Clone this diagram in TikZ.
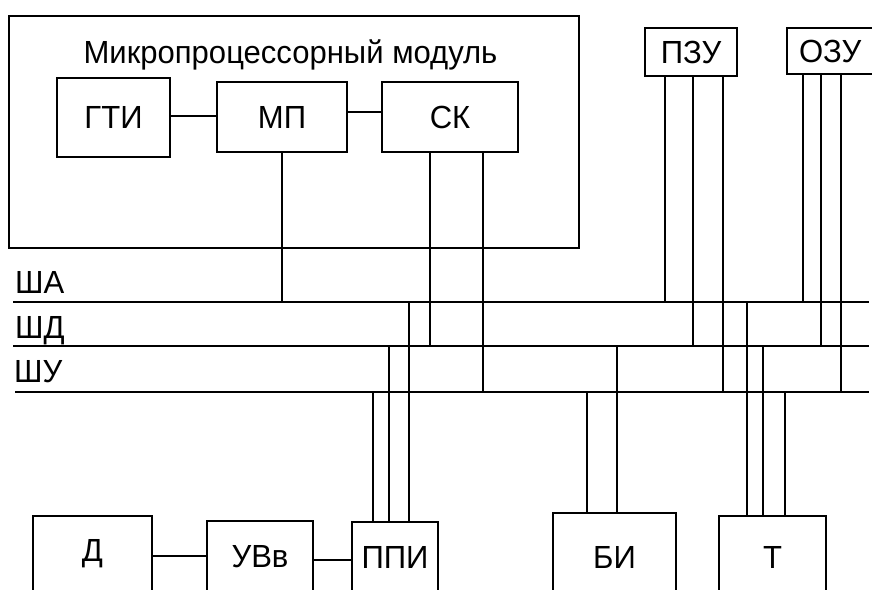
\documentclass[tikz,border=0pt]{standalone}
\usepackage{fontspec}
\setmainfont{Liberation Sans}[FakeStretch=0.97]
\usetikzlibrary{calc}
\tikzset{
  blk/.style={draw, line width=1.3pt, inner sep=0pt, rectangle, font=\fontsize{32}{38}\selectfont},
  wire/.style={line width=1.1pt},
  bus/.style={line width=1.8pt},
  lbl/.style={inner sep=0pt, font=\fontsize{32}{38}\selectfont}
}
\begin{document}
\begin{tikzpicture}[x=1pt,y=-1pt]
\useasboundingbox (0,0) rectangle (872,589);
\clip (0,0) rectangle (872,589);
% module
\node[blk, minimum width=570, minimum height=232] (module) at (294,132) {};
\node[lbl, anchor=base] (title) at (290.5,63) {Микропроцессорный модуль};
\node[blk, minimum width=113, minimum height=79] (gti) at (113.5,117.5) {ГТИ};
\node[blk, minimum width=130, minimum height=70] (mp) at (282,117) {МП};
\node[blk, minimum width=136, minimum height=70] (ck) at (450,117) {СК};
% memory
\node[blk, minimum width=92, minimum height=48] (pzu) at (691,52) {ПЗУ};
\node[blk, minimum width=93, minimum height=46, text width=93, align=left] (ozu) at (833.5,51) {\hspace*{12pt}ОЗУ};
% bottom
\node[blk, minimum width=119, minimum height=76] (d) at (92.5,554) {Д};
\node[blk, minimum width=106, minimum height=72] (uvv) at (260,557) {УВв};
\node[blk, minimum width=86, minimum height=70] (ppi) at (395,557) {ППИ};
\node[blk, minimum width=123, minimum height=88] (bi) at (614.5,557) {БИ};
\node[blk, minimum width=107, minimum height=82] (t) at (772.5,557) {Т};
% buses
\coordinate (A0) at (13,302); \coordinate (A1) at (869,302);
\coordinate (D0) at (13,346); \coordinate (D1) at (869,346);
\coordinate (U0) at (15,392); \coordinate (U1) at (869,392);
\draw[bus] (A0) -- (A1);
\draw[bus] (D0) -- (D1);
\draw[bus] (U0) -- (U1);
\node[lbl, anchor=base west] (la) at (15,293) {ША};
\node[lbl, anchor=base west] (ld) at (15,338) {ШД};
\node[lbl, anchor=base west] (lu) at (14,382) {ШУ};
% horizontal links
\draw[wire] (gti.east |- 0,116) -- (mp.west |- 0,116);
\draw[wire] (mp.east |- 0,112) -- (ck.west |- 0,112);
\draw[wire] (d.east |- 0,556) -- (uvv.west |- 0,556);
\draw[wire] (uvv.east |- 0,560) -- (ppi.west |- 0,560);
% taps on buses
\coordinate (mpA) at (282,302);
\coordinate (ck1D) at (430,346);
\coordinate (ck2U) at (483,392);
\coordinate (pz1A) at (665,302);
\coordinate (pz2D) at (693,346);
\coordinate (pz3U) at (723,392);
\coordinate (oz1A) at (803,302);
\coordinate (oz2D) at (821,346);
\coordinate (oz3U) at (841,392);
\coordinate (pp1U) at (373,392);
\coordinate (pp2D) at (389,346);
\coordinate (pp3A) at (409,302);
\coordinate (bi1U) at (587,392);
\coordinate (bi2D) at (617,346);
\coordinate (t1A) at (747,302);
\coordinate (t2D) at (763,346);
\coordinate (t3U) at (785,392);
% vertical links
\draw[wire] (mpA |- mp.south) -- (mpA);
\draw[wire] (ck1D |- ck.south) -- (ck1D);
\draw[wire] (ck2U |- ck.south) -- (ck2U);
\draw[wire] (pz1A |- pzu.south) -- (pz1A);
\draw[wire] (pz2D |- pzu.south) -- (pz2D);
\draw[wire] (pz3U |- pzu.south) -- (pz3U);
\draw[wire] (oz1A |- ozu.south) -- (oz1A);
\draw[wire] (oz2D |- ozu.south) -- (oz2D);
\draw[wire] (oz3U |- ozu.south) -- (oz3U);
\draw[wire] (pp1U) -- (pp1U |- ppi.north);
\draw[wire] (pp2D) -- (pp2D |- ppi.north);
\draw[wire] (pp3A) -- (pp3A |- ppi.north);
\draw[wire] (bi1U) -- (bi1U |- bi.north);
\draw[wire] (bi2D) -- (bi2D |- bi.north);
\draw[wire] (t1A) -- (t1A |- t.north);
\draw[wire] (t2D) -- (t2D |- t.north);
\draw[wire] (t3U) -- (t3U |- t.north);
\end{tikzpicture}
\end{document}
